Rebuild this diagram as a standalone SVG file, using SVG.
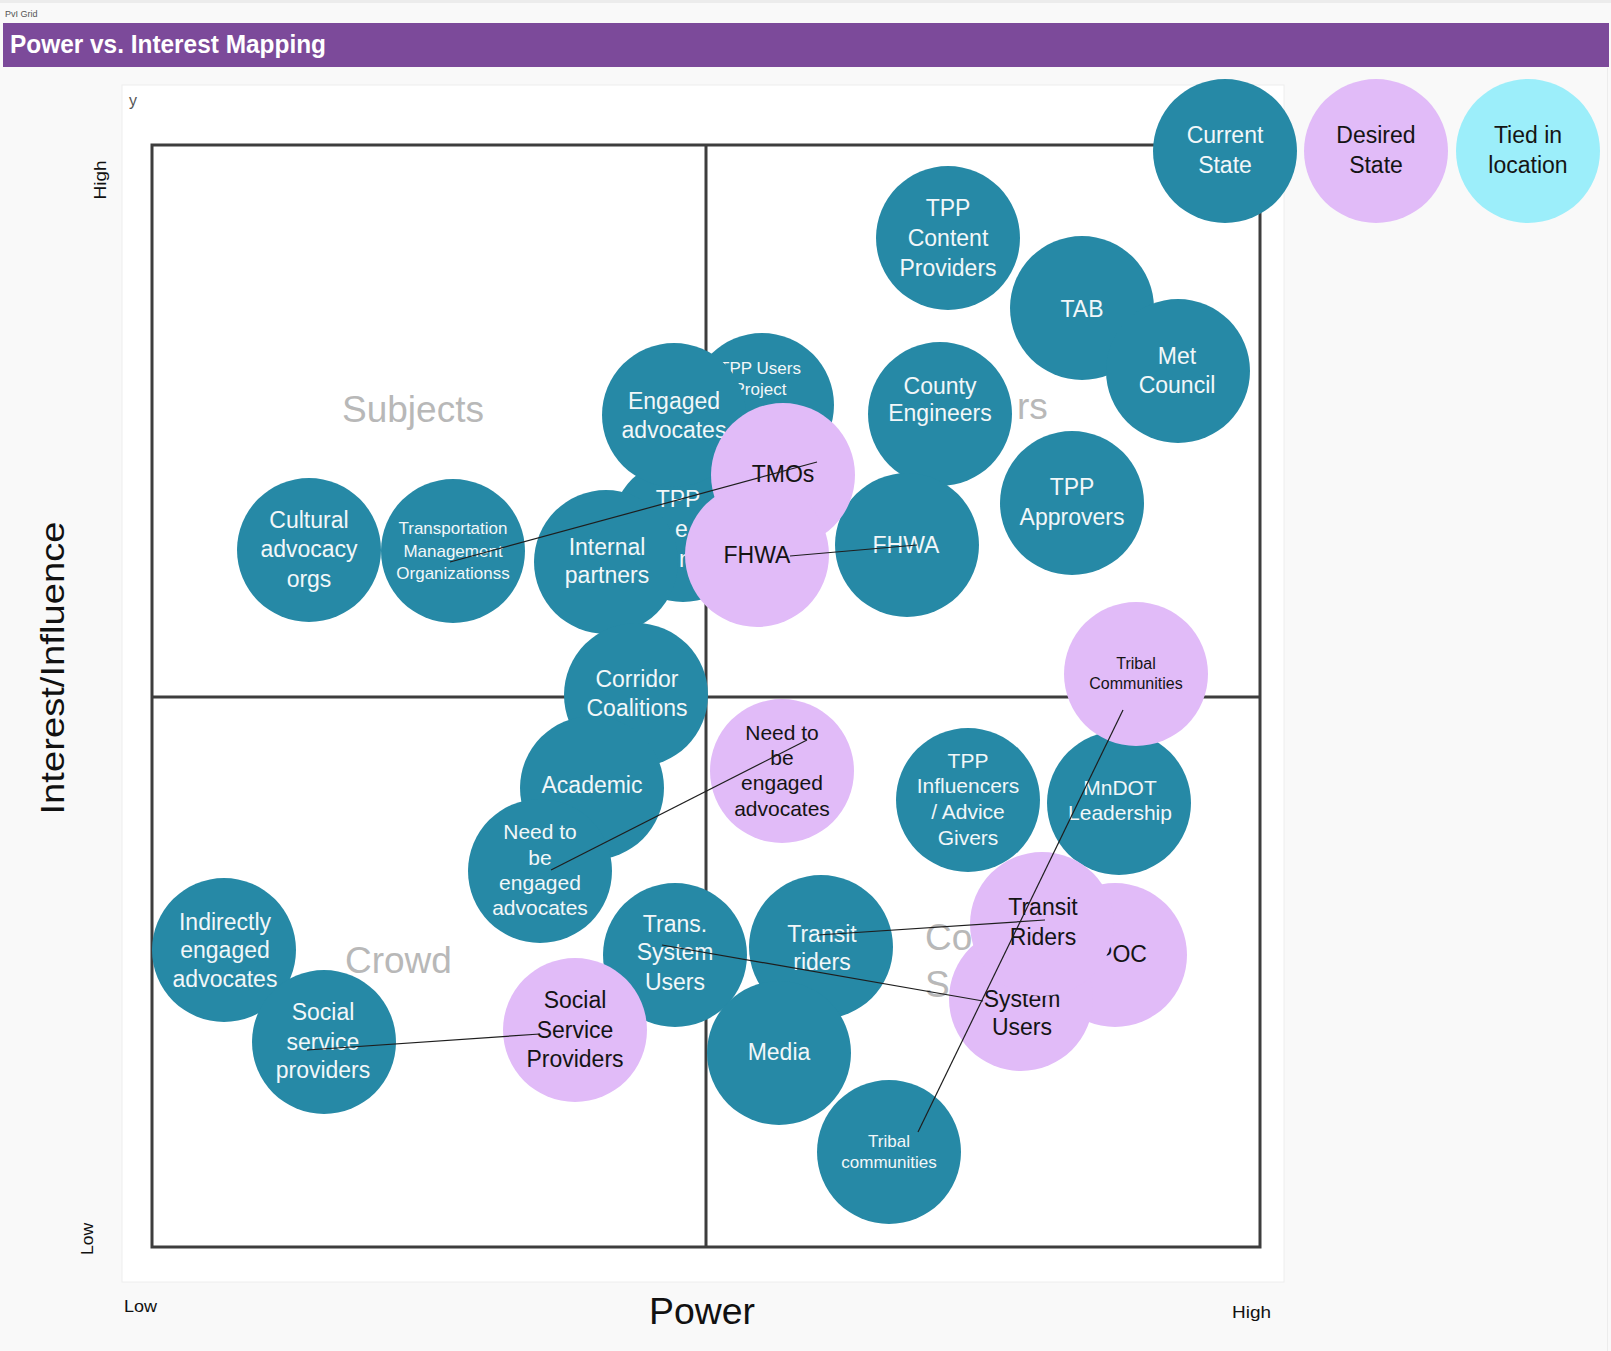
<svg xmlns="http://www.w3.org/2000/svg" width="1611" height="1351" viewBox="0 0 1611 1351">
<style>
.bg{fill:#f9f9f9}
.c{fill:#2689a6}
.d{fill:#e1bbf8}
.t{fill:#9ceefa}
text{font-family:"Liberation Sans",Arial,sans-serif}
.w{fill:#f2f7f9;font-size:23px;text-anchor:middle}
.k{fill:#141414;font-size:23px;text-anchor:middle}
.m{font-size:21px}
.s{font-size:17px}
.xs{font-size:16px}
.q{fill:#b8b8b8;font-size:37px}
.ax{fill:#111;font-size:17px}
.grid{fill:none;stroke:#3d3d3d;stroke-width:3}
.ln{stroke:#1e1e1e;stroke-width:1.2;fill:none}
</style>
<rect class="bg" x="0" y="0" width="1611" height="1351"/>
<rect x="0" y="0" width="1611" height="3" fill="#ececec"/>
<line x1="1607.5" y1="68" x2="1607.5" y2="1351" stroke="#ececec" stroke-width="1"/>
<text x="5" y="17" style="font-size:9px" fill="#555">PvI Grid</text>
<rect x="3" y="23" width="1606" height="44" fill="#7c4a9a"/>
<text x="10" y="53" style="font-size:25px;font-weight:bold" fill="#ffffff" textLength="316" lengthAdjust="spacingAndGlyphs">Power vs. Interest Mapping</text>

<rect x="122" y="85" width="1162" height="1197" fill="#ffffff" stroke="#eeeeee" stroke-width="1"/>
<text x="129" y="106" style="font-size:16px" fill="#555">y</text>
<rect class="grid" x="152" y="145" width="1108" height="1102"/>
<line class="grid" x1="706" y1="145" x2="706" y2="1247"/>
<line class="grid" x1="152" y1="697" x2="1260" y2="697"/>

<text class="ax" style="font-size:16px" text-anchor="middle" transform="translate(106,180) rotate(-90)" textLength="39" lengthAdjust="spacingAndGlyphs">High</text>
<text class="ax" text-anchor="middle" transform="translate(93,1239) rotate(-90)" textLength="32" lengthAdjust="spacingAndGlyphs">Low</text>
<text class="ax" style="font-size:34px" text-anchor="middle" transform="translate(64,668) rotate(-90)" textLength="293" lengthAdjust="spacingAndGlyphs">Interest/Influence</text>
<text class="ax" style="font-size:37px" text-anchor="middle" x="702" y="1324" textLength="106" lengthAdjust="spacingAndGlyphs">Power</text>
<text class="ax" x="124" y="1312" textLength="33" lengthAdjust="spacingAndGlyphs">Low</text>
<text class="ax" x="1232" y="1318" textLength="39" lengthAdjust="spacingAndGlyphs">High</text>

<g id="quadrant-labels">
<text class="q" x="342" y="422">Subjects</text>
<text class="q" x="1017" y="419">rs</text>
<text class="q" x="345" y="973">Crowd</text>
<text class="q" x="925" y="950">Co</text>
<text class="q" x="925" y="997">Se</text>
</g>

<g id="tpp-content-providers"><circle class="c" cx="948" cy="238" r="72"/><text class="w"><tspan x="948" y="216">TPP</tspan><tspan x="948" y="246">Content</tspan><tspan x="948" y="276">Providers</tspan></text></g>
<g id="tab"><circle class="c" cx="1082" cy="308" r="72"/><text class="w" x="1082" y="317">TAB</text></g>
<g id="met-council"><circle class="c" cx="1178" cy="371" r="72"/><text class="w"><tspan x="1177" y="364">Met</tspan><tspan x="1177" y="393">Council</tspan></text></g>
<g id="tpp-users"><circle class="c" cx="762" cy="405" r="72"/><text class="w s"><tspan x="760" y="374">TPP Users</tspan><tspan x="760" y="395">Project</tspan></text></g>
<g id="tpp-e"><circle class="c" cx="683" cy="530" r="72"/><text class="w"><tspan x="678" y="507">TPP</tspan><tspan x="675" y="537" text-anchor="start">e</tspan><tspan x="679" y="567" text-anchor="start">m</tspan></text></g>
<g id="engaged-advocates"><circle class="c" cx="674" cy="415" r="72"/><text class="w"><tspan x="674" y="409">Engaged</tspan><tspan x="674" y="438">advocates</tspan></text></g>
<g id="internal-partners"><circle class="c" cx="606" cy="562" r="72"/><text class="w"><tspan x="607" y="555">Internal</tspan><tspan x="607" y="583">partners</tspan></text></g>
<g id="cultural-advocacy"><circle class="c" cx="309" cy="550" r="72"/><text class="w"><tspan x="309" y="528">Cultural</tspan><tspan x="309" y="557">advocacy</tspan><tspan x="309" y="587">orgs</tspan></text></g>
<g id="tmo-current"><circle class="c" cx="453" cy="551" r="72"/><text class="w s"><tspan x="453" y="534">Transportation</tspan><tspan x="453" y="557">Management</tspan><tspan x="453" y="579">Organizationss</tspan></text></g>
<g id="county-engineers"><circle class="c" cx="940" cy="414" r="72"/><text class="w"><tspan x="940" y="394">County</tspan><tspan x="940" y="421">Engineers</tspan></text></g>
<g id="fhwa-current"><circle class="c" cx="907" cy="545" r="72"/><text class="w" x="906" y="553">FHWA</text></g>
<g id="tpp-approvers"><circle class="c" cx="1072" cy="503" r="72"/><text class="w"><tspan x="1072" y="495">TPP</tspan><tspan x="1072" y="525">Approvers</tspan></text></g>
<g id="corridor-coalitions"><circle class="c" cx="636" cy="695" r="72"/><text class="w"><tspan x="637" y="687">Corridor</tspan><tspan x="637" y="716">Coalitions</tspan></text></g>
<g id="academic"><circle class="c" cx="592" cy="788" r="72"/><text class="w" x="592" y="793">Academic</text></g>
<g id="need-engaged-current"><circle class="c" cx="540" cy="871" r="72"/><text class="w m"><tspan x="540" y="839">Need to</tspan><tspan x="540" y="865">be</tspan><tspan x="540" y="890">engaged</tspan><tspan x="540" y="915">advocates</tspan></text></g>
<g id="tpp-influencers"><circle class="c" cx="968" cy="800" r="72"/><text class="w m"><tspan x="968" y="768">TPP</tspan><tspan x="968" y="793">Influencers</tspan><tspan x="968" y="819">/ Advice</tspan><tspan x="968" y="845">Givers</tspan></text></g>
<g id="mndot-leadership"><circle class="c" cx="1119" cy="803" r="72"/><text class="w m"><tspan x="1120" y="795">MnDOT</tspan><tspan x="1120" y="820">Leadership</tspan></text></g>
<g id="indirectly-engaged"><circle class="c" cx="224" cy="950" r="72"/><text class="w"><tspan x="225" y="930">Indirectly</tspan><tspan x="225" y="958">engaged</tspan><tspan x="225" y="987">advocates</tspan></text></g>
<g id="social-service-current"><circle class="c" cx="324" cy="1042" r="72"/><text class="w"><tspan x="323" y="1020">Social</tspan><tspan x="323" y="1050">service</tspan><tspan x="323" y="1078">providers</tspan></text></g>
<g id="trans-system-users"><circle class="c" cx="675" cy="955" r="72"/><text class="w"><tspan x="675" y="932">Trans.</tspan><tspan x="675" y="960">System</tspan><tspan x="675" y="990">Users</tspan></text></g>
<g id="transit-riders-current"><circle class="c" cx="821" cy="947" r="72"/><text class="w"><tspan x="822" y="942">Transit</tspan><tspan x="822" y="970">riders</tspan></text></g>
<g id="media"><circle class="c" cx="779" cy="1053" r="72"/><text class="w" x="779" y="1060">Media</text></g>
<g id="tribal-current"><circle class="c" cx="889" cy="1152" r="72"/><text class="w s"><tspan x="889" y="1147">Tribal</tspan><tspan x="889" y="1168">communities</tspan></text></g>

<g id="tmos-desired"><circle class="d" cx="783" cy="475" r="72"/><text class="k" x="783" y="482">TMOs</text></g>
<g id="fhwa-desired"><circle class="d" cx="757" cy="555" r="72"/><text class="k" x="757" y="563">FHWA</text></g>
<g id="need-engaged-desired"><circle class="d" cx="782" cy="771" r="72"/><text class="k m"><tspan x="782" y="740">Need to</tspan><tspan x="782" y="765">be</tspan><tspan x="782" y="790">engaged</tspan><tspan x="782" y="816">advocates</tspan></text></g>
<g id="tribal-desired"><circle class="d" cx="1136" cy="674" r="72"/><text class="k xs"><tspan x="1136" y="669">Tribal</tspan><tspan x="1136" y="689">Communities</tspan></text></g>
<g id="poc-desired"><circle class="d" cx="1115" cy="955" r="72"/><text class="k" x="1122" y="962">POC</text></g>
<g id="system-users-desired"><circle class="d" cx="1021" cy="999" r="72"/><text class="k"><tspan x="1022" y="1007">System</tspan><tspan x="1022" y="1035">Users</tspan></text></g>
<g id="transit-riders-desired"><circle class="d" cx="1042" cy="924" r="72"/><text class="k"><tspan x="1043" y="915">Transit</tspan><tspan x="1043" y="945">Riders</tspan></text></g>
<g id="social-service-desired"><circle class="d" cx="575" cy="1030" r="72"/><text class="k"><tspan x="575" y="1008">Social</tspan><tspan x="575" y="1038">Service</tspan><tspan x="575" y="1067">Providers</tspan></text></g>

<g id="legend-current"><circle class="c" cx="1225" cy="151" r="72"/><text class="w"><tspan x="1225" y="143">Current</tspan><tspan x="1225" y="173">State</tspan></text></g>
<g id="legend-desired"><circle class="d" cx="1376" cy="151" r="72"/><text class="k"><tspan x="1376" y="143">Desired</tspan><tspan x="1376" y="173">State</tspan></text></g>
<g id="legend-tied"><circle class="t" cx="1528" cy="151" r="72"/><text class="k"><tspan x="1528" y="143">Tied in</tspan><tspan x="1528" y="173">location</tspan></text></g>

<g id="connectors">
<line class="ln" x1="450" y1="562" x2="817" y2="462"/>
<line class="ln" x1="790" y1="556" x2="917" y2="545"/>
<line class="ln" x1="551" y1="870" x2="807" y2="740"/>
<line class="ln" x1="307" y1="1050" x2="540" y2="1034"/>
<line class="ln" x1="818" y1="935" x2="1045" y2="920"/>
<line class="ln" x1="662" y1="945" x2="983" y2="1001"/>
<line class="ln" x1="918" y1="1132" x2="1123" y2="710"/>
</g>
</svg>
